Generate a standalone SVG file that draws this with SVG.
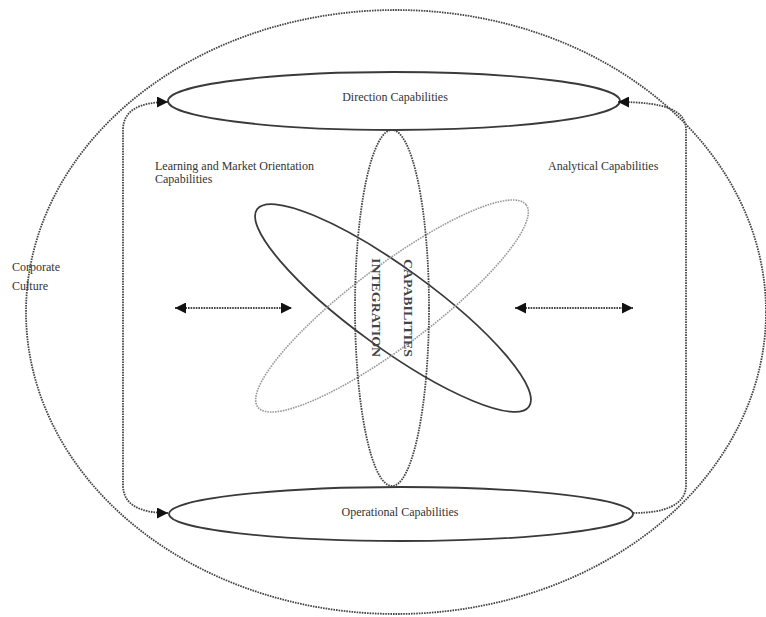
<svg xmlns="http://www.w3.org/2000/svg" width="766" height="617" viewBox="0 0 766 617">
  <style>
    .lbl { font-family: "Liberation Serif", "Times New Roman", serif; font-size: 12px; fill: #333; }
    .vlbl { font-family: "Liberation Serif", "Times New Roman", serif; font-size: 12.5px; font-weight: bold; fill: #444; }
    .dot { fill: none; stroke: #444; stroke-width: 1.8; stroke-dasharray: 1.6 1; }
    .dotlight { fill: none; stroke: #999; stroke-width: 1.6; stroke-dasharray: 1.6 1; }
    .solid { fill: none; stroke: #3a3a3a; stroke-width: 1.8; }
  </style>
  <defs>
    <marker id="arrow" viewBox="0 0 10 10" refX="10" refY="5" markerWidth="12" markerHeight="11" markerUnits="userSpaceOnUse" orient="auto-start-reverse">
      <path d="M0,0 L10,5 L0,10 Z" fill="#111"/>
    </marker>
  </defs>
  <rect width="766" height="617" fill="#fff"/>

  <!-- outer boundary: corporate culture -->
  <g id="corporate-culture">
    <ellipse class="dot" cx="396" cy="312" rx="370" ry="302"/>
    <text class="lbl" x="12" y="271">Corporate</text>
    <text class="lbl" x="12" y="290">Culture</text>
  </g>

  <g id="direction-capabilities">
    <ellipse class="solid" cx="394" cy="101" rx="226" ry="29"/>
    <text class="lbl" x="395" y="101" text-anchor="middle">Direction Capabilities</text>
  </g>

  <g id="operational-capabilities">
    <ellipse class="solid" cx="401" cy="514" rx="232" ry="27"/>
    <text class="lbl" x="400" y="516" text-anchor="middle">Operational Capabilities</text>
  </g>

  <g id="learning-market-orientation">
    <ellipse class="solid" cx="393" cy="308" rx="168" ry="40" transform="rotate(36 393 308)"/>
    <text class="lbl" x="155" y="170">Learning and Market Orientation</text>
    <text class="lbl" x="155" y="183">Capabilities</text>
  </g>

  <g id="analytical-capabilities">
    <ellipse class="dotlight" cx="392" cy="306" rx="168" ry="40" transform="rotate(-37 392 306)"/>
    <text class="lbl" x="548" y="170">Analytical Capabilities</text>
  </g>

  <g id="integration-capabilities">
    <ellipse class="dot" cx="392" cy="308" rx="37" ry="178"/>
    <text class="vlbl" transform="translate(372 258) rotate(90)" textLength="99" lengthAdjust="spacingAndGlyphs">INTEGRATION</text>
    <text class="vlbl" transform="translate(404 259) rotate(90)" textLength="98" lengthAdjust="spacingAndGlyphs">CAPABILITIES</text>
  </g>

  <!-- connectors -->
  <g id="connectors">
    <path class="dot" d="M168,102 C140,102 123,110 123,130 L123,485 C123,505 140,513 168,513" marker-start="url(#arrow)" marker-end="url(#arrow)"/>
    <path class="dot" d="M633,513 C665,513 686,505 686,485 L686,130 C686,110 665,102 618,102" marker-end="url(#arrow)"/>
    <path class="dot" d="M175,308 L292,308" marker-start="url(#arrow)" marker-end="url(#arrow)"/>
    <path class="dot" d="M515,308 L633,308" marker-start="url(#arrow)" marker-end="url(#arrow)"/>
  </g>
</svg>
